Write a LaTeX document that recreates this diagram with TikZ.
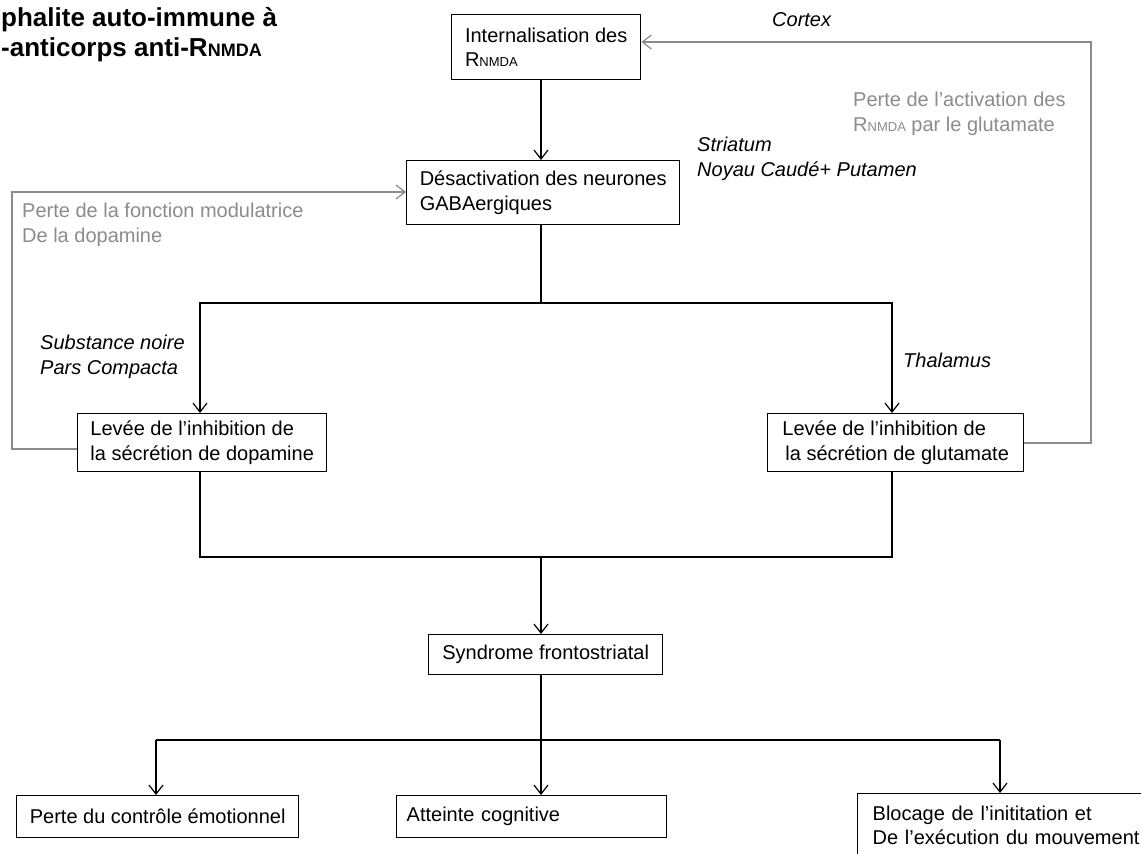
\documentclass[tikz,border=0pt]{standalone}
\usepackage{fontspec}
\setmainfont{Liberation Sans}
\usetikzlibrary{arrows.meta}
\definecolor{fbgray}{RGB}{140,140,140}
\newcommand{\Rn}{R{\fontsize{13}{13}\selectfont NMDA}}
\newcommand{\Rnb}{R{\fontsize{18}{18}\selectfont NMDA}}
\tikzset{
  bodyfont/.style={font=\fontsize{20}{24.5}\selectfont},
  box/.style={draw=black, line width=1.4pt, rectangle, anchor=north west, align=left, bodyfont, inner ysep=0pt},
  link/.style={line width=1.4pt, draw=black},
  arr/.style={link, -{Straight Barb[length=9pt,width=14pt,line width=1.2pt]}},
  fb/.style={line width=1.4pt, draw=fbgray, -{Straight Barb[length=9pt,width=14pt,line width=1.2pt]}},
  lbl/.style={anchor=west, align=left, inner sep=0pt, font=\fontsize{20}{24.5}\selectfont\itshape},
  glbl/.style={anchor=west, align=left, inner sep=0pt, text=fbgray, bodyfont},
}
\begin{document}
\begin{tikzpicture}[x=1pt,y=-1pt]
\useasboundingbox (0,0) rectangle (1141,854);
\clip (0,0) rectangle (1141,854);
\fill[white] (0,0) rectangle (1141,854);

% title
\node[anchor=west, align=left, inner sep=0pt, font=\fontsize{26}{30}\selectfont\bfseries] (title) at (1,35) {phalite auto-immune à\\-anticorps anti-\Rnb};

% boxes
\node[box, minimum width=189pt, minimum height=65pt] (intern) at (451,14) {Internalisation des\\\Rn};
\node[box, minimum width=273pt, minimum height=64pt] (desact) at (406,160) {Désactivation des neurones\\GABAergiques};
\node[box, minimum width=249pt, minimum height=58pt] (levL) at (77,413) {Levée de l’inhibition de\\la sécrétion de dopamine};
\node[box, minimum width=256pt, minimum height=58pt] (levR) at (767,413) {Levée de l’inhibition de\\\hspace{3pt}la sécrétion de glutamate};
\node[box, minimum width=234pt, minimum height=40pt] (synd) at (428,634) {Syndrome frontostriatal};
\node[box, minimum width=282pt, minimum height=42pt] (perte) at (16,795) {Perte du contrôle émotionnel};
\node[box, text width=250pt, inner xsep=10pt, minimum height=42pt] (atteinte) at (396,795) {Atteinte cognitive};
\node[box, text width=290pt, inner xsep=15pt, inner ysep=12pt] (blocage) at (857,793) {Blocage de l’inititation et\\De l’exécution du mouvement};

% labels
\node[lbl] (cortex) at (772,20) {Cortex};
\node[lbl] (striatum) at (697,159) {Striatum\\Noyau Caudé+ Putamen};
\node[lbl] (subst) at (40,357) {Substance noire\\Pars Compacta};
\node[lbl] (thal) at (903,360) {Thalamus};
\node[glbl] (gtxt1) at (22,225) {Perte de la fonction modulatrice\\De la dopamine};
\node[glbl] (gtxt2) at (853,114) {Perte de l’activation des\\\Rn{} par le glutamate};

% junction points
\coordinate (sx) at (541,0);
\coordinate (j1) at (541,303);
\coordinate (j1L) at (200,303);
\coordinate (j1R) at (892,303);
\coordinate (j2) at (541,557);
\coordinate (j2L) at (200,557);
\coordinate (j2R) at (892,557);
\coordinate (j3) at (541,740);
\coordinate (j3L) at (156,740);
\coordinate (j3R) at (1000,740);
\coordinate (gL) at (12,449);
\coordinate (gLt) at (12,192);
\coordinate (gR) at (1091,443);
\coordinate (gRt) at (1091,42);

% connectors
\draw[arr] (intern.south -| sx) -- (desact.north -| sx);
\draw[link] (desact.south -| j1) -- (j1);
\draw[arr] (j1) -- (j1L) -- (levL.north -| j1L);
\draw[arr] (j1) -- (j1R) -- (levR.north -| j1R);
\draw[link] (levL.south -| j2L) -- (j2L) -- (j2R) -- (levR.south -| j2R);
\draw[arr] (j2) -- (synd.north -| j2);
\draw[link] (synd.south -| j3) -- (j3);
\draw[link] (j3L) -- (j3R);
\draw[arr] (j3L) -- (perte.north -| j3L);
\draw[arr] (j3) -- (atteinte.north -| j3);
\draw[arr] (j3R) -- (blocage.north -| j3R);

% feedback loops
\draw[fb] (levL.west |- gL) -- (gL) -- (gLt) -- (desact.west |- gLt);
\draw[fb] (levR.east |- gR) -- (gR) -- (gRt) -- (intern.east |- gRt);
\end{tikzpicture}
\end{document}
